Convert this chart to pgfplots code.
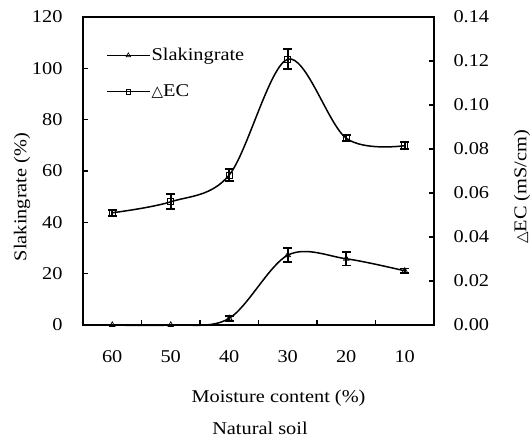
\documentclass[border=0pt]{standalone}
\usepackage{fontspec}
\setmainfont{Liberation Serif}[FakeStretch=1.13]
\newfontfamily\symfont{DejaVu Sans}
\usepackage{pgfplots}
\pgfplotsset{compat=1.18}

\newcommand\chartfont{\fontsize{18}{21}\selectfont}
\newcommand\tri{{\symfont\fontsize{15}{17}\selectfont\raisebox{0pt}{△}}}

\pgfplotsset{
  common/.style={
    scale only axis, width=351pt, height=308pt,
    xmin=-0.5, xmax=5.5,
    tick align=inside, major tick length=5pt,
    tick style={black, line width=1.3pt},
    axis line style={black, line width=1.4pt},
    /pgf/number format/assume math mode=true,
    ticklabel style={font=\chartfont},
    clip=false,
  },
  slake/.style={black, line width=1.5pt, smooth, tension=0.55,
    mark=triangle, mark size=3.2pt, mark options={fill=white, line width=0.7pt, solid}},
  ec/.style={black, line width=1.5pt, smooth, tension=0.55,
    mark=square, mark size=3pt, mark options={fill=white, line width=0.7pt, solid}},
  bars/.style={error bars/.cd, y dir=both, y explicit,
    error bar style={black, line width=1.8pt},
    error mark options={black, rotate=90, mark size=4.5pt, line width=1.8pt}},
}

\begin{document}
\begin{tikzpicture}
\path[use as bounding box] (-83pt,-118pt) rectangle (448pt,325pt);

% left axis: slaking rate (%)
\begin{axis}[common,
  ymin=0, ymax=120, ytick={0,20,...,120}, ytick pos=left,
  xtick={0.5,1.5,2.5,3.5,4.5}, xticklabels={}, xtick pos=bottom,
  extra x ticks={0,1,2,3,4,5},
  extra x tick labels={60,50,40,30,20,10},
  extra x tick style={major tick length=0pt},
  xticklabel style={yshift=-22pt},
  yticklabel style={xshift=-17pt},
  legend style={draw=none, fill=none, at={(rel axis cs:0.065,0.905)}, anchor=north west,
    font=\chartfont, row sep=18.5pt, inner sep=0pt,
    nodes={inner xsep=1pt}},
  legend cell align=left,
  legend image code/.code={
    \draw[black, line width=1.6pt, mark repeat=2, mark phase=2]
      plot coordinates {(0pt,0pt) (21.5pt,0pt) (43pt,0pt)};},
]
\addplot[forget plot, slake, bars] coordinates {
  (0,0)    +- (0,0)
  (1,0)    +- (0,0)
  (2,2.6)  +- (0,1.0)
  (3,27.2) +- (0,2.8)
  (4,25.8) +- (0,2.6)
  (5,21.1) +- (0,0.9)
};
\addlegendimage{black, mark=triangle, mark size=2.6pt,
  mark options={fill=white, line width=0.6pt}}
\addlegendentry{Slakingrate}
\addlegendimage{black, mark=square, mark size=2.3pt,
  mark options={fill=white, line width=0.6pt}}
\addlegendentry{\tri EC}
\end{axis}

% right axis: change in electrical conductivity (mS/cm)
\begin{axis}[common,
  ymin=0, ymax=0.14, ytick={0,0.02,...,0.14},
  axis y line*=right, axis x line=none,
  yticklabel style={xshift=16pt, /pgf/number format/.cd, fixed, fixed zerofill, precision=2},
]
\addplot[ec, bars] coordinates {
  (0,0.0510) +- (0,0.0014)
  (1,0.0560) +- (0,0.0034)
  (2,0.0682) +- (0,0.0028)
  (3,0.1208) +- (0,0.0045)
  (4,0.0849) +- (0,0.0013)
  (5,0.0815) +- (0,0.0016)
};
\end{axis}

\node[font=\chartfont, rotate=90] at (-61pt,128pt) {Slakingrate (\%)};
\node[font=\chartfont, rotate=90] at (439pt,138pt) {\tri EC (mS/cm)};
\node[font=\chartfont] at (195.5pt,-73pt) {Moisture content (\%)};
\node[font=\chartfont] at (177pt,-103pt) {Natural soil};
\end{tikzpicture}
\end{document}
